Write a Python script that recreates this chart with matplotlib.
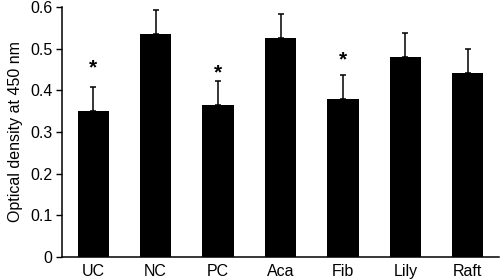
import matplotlib
matplotlib.use("Agg")
import matplotlib.pyplot as plt
import numpy as np

plt.rcParams['font.family'] = ['Liberation Sans', 'DejaVu Sans']

# data
groups = ['UC', 'NC', 'PC', 'Aca', 'Fib', 'Lily', 'Raft']
od_mean = [0.350, 0.536, 0.364, 0.526, 0.379, 0.481, 0.442]
od_err = [0.058, 0.056, 0.058, 0.058, 0.058, 0.057, 0.057]
stars = {'UC': 0.466, 'PC': 0.454, 'Fib': 0.484}

fig = plt.figure(figsize=(5, 2.8), dpi=100)
ax = fig.add_axes([0.124, 0.082, 0.874, 0.893])

x = np.arange(len(groups))
ax.bar(x, od_mean, width=0.5, color='black')
ax.errorbar(x, od_mean, yerr=[np.zeros(len(od_err)), od_err], fmt='none',
            ecolor='black', elinewidth=1.1, capsize=2, capthick=1.1)

# significance stars (glyph sits high in its box, so nudge down a bit)
for g, y in stars.items():
    ax.text(groups.index(g), y - 0.012, '*', ha='center', va='center',
            fontsize=15, fontweight='bold')

ax.set_xlim(-0.5, len(groups) - 0.5)
ax.set_ylim(0, 0.6)
ax.set_yticks([0, 0.1, 0.2, 0.3, 0.4, 0.5, 0.6])
ax.set_yticklabels(['0', '0.1', '0.2', '0.3', '0.4', '0.5', '0.6'])
ax.set_xticks(x)
ax.set_xticklabels(groups)
ax.tick_params(axis='x', length=0, labelsize=11.5, pad=5)
ax.tick_params(axis='y', length=4, width=1, labelsize=11.5, direction='out', pad=3)
ax.set_ylabel('Optical density at 450 nm', fontsize=11.5, labelpad=5)

for s in ['top', 'right']:
    ax.spines[s].set_visible(False)
ax.spines['left'].set_linewidth(1.1)
ax.spines['bottom'].set_linewidth(1.1)

plt.savefig('out.png', dpi=100)
